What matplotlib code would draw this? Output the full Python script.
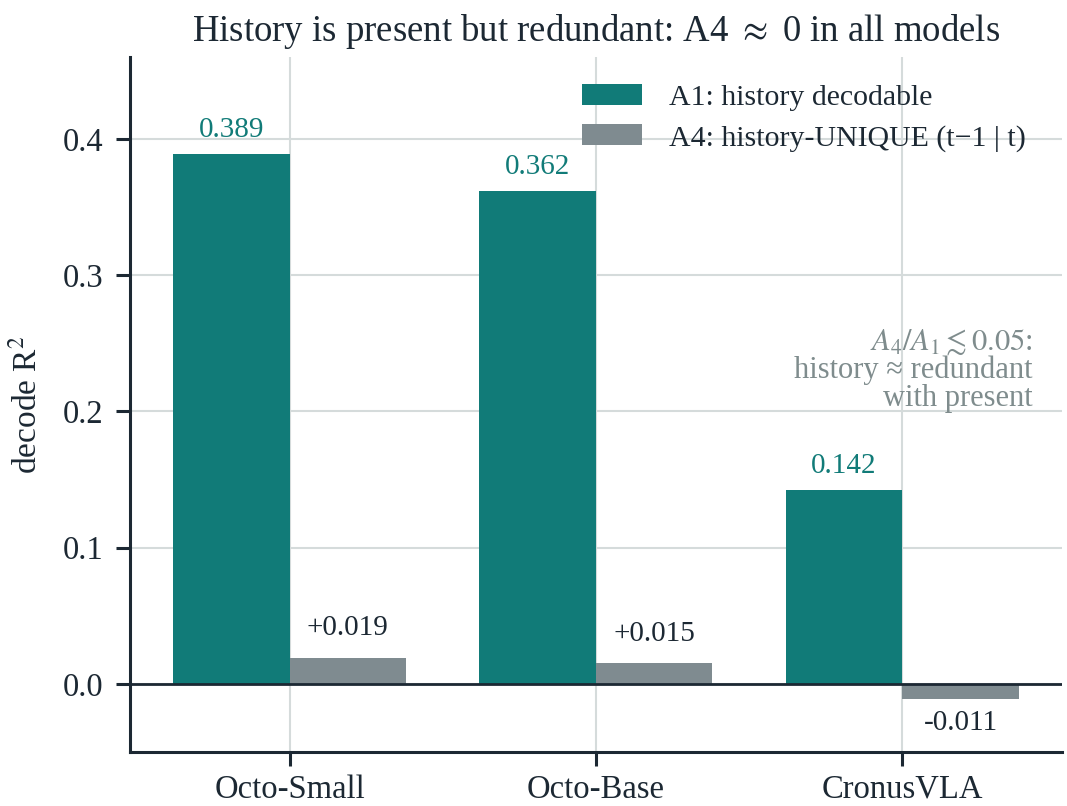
import matplotlib
matplotlib.use("Agg")
from matplotlib import pyplot as plt
import numpy as np

plt.rcParams['font.family'] = ['Liberation Serif', 'DejaVu Serif']
plt.rcParams['mathtext.fontset'] = 'stix'

models = ["Octo-Small", "Octo-Base", "CronusVLA"]
a1_values = [0.389, 0.362, 0.142]
a4_values = [0.019, 0.015, -0.011]
a1_labels = ["0.389", "0.362", "0.142"]
a4_labels = ["+0.019", "+0.015", "-0.011"]
y_ticks = [0.0, 0.1, 0.2, 0.3, 0.4]

teal = "#117b78"
grey = "#7f8b90"
ink = "#1c2833"
note = "#7f8c8d"
width = 0.38

fig = plt.figure(figsize=(10.67, 8.06), dpi=100)
ax = fig.add_axes([0.122, 0.067, 0.873, 0.862])

x = np.arange(len(models))
ax.bar(x - width / 2, a1_values, width, color=teal, label="A1: history decodable", zorder=3)
ax.bar(x + width / 2, a4_values, width, color=grey, label="A4: history-UNIQUE (t\u22121 | t)", zorder=3)

for xi, v, s in zip(x, a1_values, a1_labels):
    ax.annotate(s, (xi - width / 2, v), xytext=(0, 8), textcoords="offset points",
                ha="center", va="bottom", color=teal, fontsize=21)
for xi, v, s in zip(x, a4_values, a4_labels):
    if v >= 0:
        ax.annotate(s, (xi + width / 2, v), xytext=(0, 12), textcoords="offset points",
                    ha="center", va="bottom", color=ink, fontsize=21)
    else:
        ax.annotate(s, (xi + width / 2, v), xytext=(0, -8), textcoords="offset points",
                    ha="center", va="top", color=ink, fontsize=21)

ax.axhline(0, color=ink, linewidth=2, zorder=4)

ax.text(0.969, 0.55, "$A_4/A_1 \\lesssim 0.05$:\nhistory \u2248 redundant\nwith present",
        transform=ax.transAxes, ha="right", va="center", color=note, fontsize=22,
        linespacing=0.95)

ax.set_xlim(-0.52, 2.52)
ax.set_ylim(-0.05, 0.46)
ax.set_xticks(x)
ax.set_xticklabels(models, fontsize=23.5, color=ink)
ax.set_yticks(y_ticks)
ax.set_yticklabels([f"{t:.1f}" for t in y_ticks], fontsize=23.5, color=ink)
ax.set_ylabel("decode R$^2$", fontsize=24, color=ink, labelpad=14)
ax.set_title("History is present but redundant: A4 $\\approx$ 0 in all models",
             fontsize=26.5, color=ink, pad=12)

ax.grid(True, color="#d5dbdb", linewidth=1.5, zorder=0)
ax.set_axisbelow(True)
for side in ["top", "right"]:
    ax.spines[side].set_visible(False)
for side in ["left", "bottom"]:
    ax.spines[side].set_color(ink)
    ax.spines[side].set_linewidth(2.2)
ax.tick_params(axis="both", length=10, width=2.2, color=ink)
ax.tick_params(axis="y", pad=9)
ax.tick_params(axis="x", pad=6)

ax.legend(loc="upper right", bbox_to_anchor=(0.99, 1.0), frameon=False, fontsize=21.5,
          handlelength=2.0, handleheight=0.7, labelspacing=0.45, handletextpad=0.9,
          labelcolor=ink)

plt.savefig("out.png")
